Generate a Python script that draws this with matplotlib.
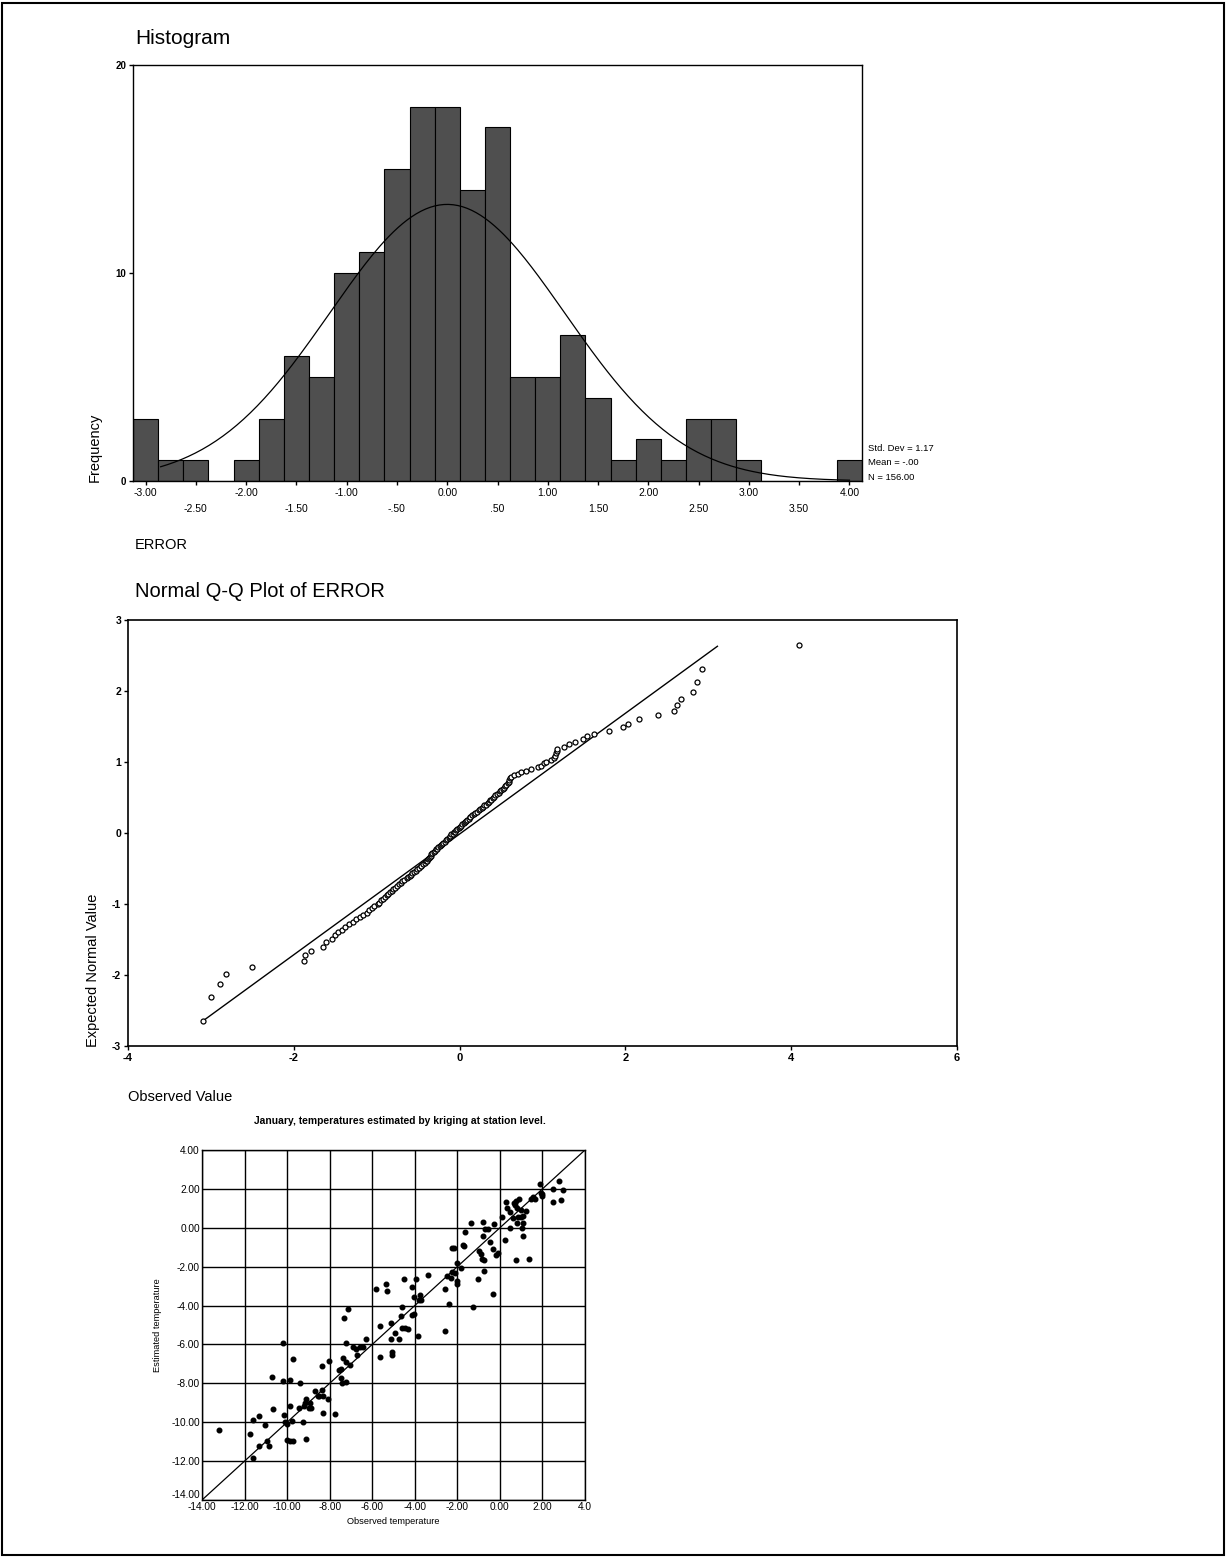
import matplotlib
matplotlib.use("Agg")
import matplotlib.pyplot as plt
import numpy as np
from matplotlib.patches import Rectangle

NARROW = ["Liberation Sans Narrow", "Liberation Sans", "DejaVu Sans"]
ARIAL = ["Liberation Sans", "DejaVu Sans"]
plt.rcParams["font.family"] = NARROW

# ---- histogram of ERROR (bin centres, width .25) ----
bin_centers = [-3.0, -2.75, -2.5, -2.25, -2.0, -1.75, -1.5, -1.25, -1.0, -0.75,
               -0.5, -0.25, 0.0, 0.25, 0.5, 0.75, 1.0, 1.25, 1.5, 1.75,
               2.0, 2.25, 2.5, 2.75, 3.0, 3.25, 3.5, 3.75, 4.0]
bin_counts = [3, 1, 1, 0, 1, 3, 6, 5, 10, 11,
              15, 18, 18, 14, 17, 5, 5, 7, 4, 1,
              2, 1, 3, 3, 1, 0, 0, 0, 1]
bin_width = 0.25
err_mean, err_sd, err_n = 0.0, 1.17, 156
hist_ticks = [-3.0, -2.5, -2.0, -1.5, -1.0, -0.5, 0.0, 0.5, 1.0, 1.5,
              2.0, 2.5, 3.0, 3.5, 4.0]
hist_ticklabels = ["-3.00", "-2.50", "-2.00", "-1.50", "-1.00", "-.50", "0.00", ".50",
                   "1.00", "1.50", "2.00", "2.50", "3.00", "3.50", "4.00"]

# ---- normal Q-Q plot of ERROR ----
qq_observed = [-3.09, -3.00, -2.89, -2.82, -2.51, -1.88, -1.86, -1.79, -1.65,
               -1.61, -1.54, -1.50, -1.47, -1.42, -1.38,
               -1.33, -1.29, -1.25, -1.20, -1.16,
               -1.12, -1.09, -1.06, -1.03, -0.99, -0.97, -0.95, -0.92, -0.90, -0.88,
               -0.86, -0.84, -0.82, -0.80, -0.78, -0.76, -0.73, -0.71, -0.69, -0.67, -0.64,
               -0.62, -0.60, -0.59, -0.57, -0.55, -0.53, -0.51, -0.49, -0.47, -0.46,
               -0.44, -0.42, -0.41, -0.39, -0.38,
               -0.37, -0.36, -0.35, -0.34, -0.33, -0.31, -0.30, -0.29, -0.27, -0.26,
               -0.24, -0.23, -0.21, -0.20, -0.18, -0.16, -0.15, -0.13,
               -0.12, -0.11, -0.10, -0.08, -0.07, -0.06, -0.04, -0.03, -0.01, 0.00,
               0.02, 0.03, 0.05, 0.06, 0.08, 0.09, 0.11, 0.12,
               0.13, 0.15, 0.17, 0.19, 0.21, 0.23, 0.25, 0.27, 0.28, 0.30, 0.32, 0.34, 0.35, 0.37,
               0.38, 0.40, 0.42, 0.43, 0.45, 0.47, 0.49, 0.50, 0.52, 0.53, 0.55, 0.56,
               0.58, 0.59, 0.60, 0.61, 0.62,
               0.66, 0.70, 0.74, 0.80, 0.86,
               0.95, 0.98, 1.02, 1.04, 1.10,
               1.14, 1.15, 1.16, 1.17, 1.18, 1.26, 1.32,
               1.39, 1.49, 1.54, 1.62, 1.80, 1.97, 2.03, 2.17,
               2.39, 2.59, 2.62, 2.67, 2.82, 2.86, 2.93, 4.09]
qq_expected = [-2.65, -2.31, -2.13, -1.99, -1.89, -1.80, -1.72, -1.66, -1.60, -1.54,
               -1.49, -1.44, -1.40, -1.36, -1.32, -1.28, -1.25, -1.21, -1.18, -1.15,
               -1.12, -1.09, -1.06, -1.03, -1.00, -0.98, -0.95, -0.93, -0.90, -0.88,
               -0.86, -0.83, -0.81, -0.79, -0.77, -0.75, -0.72, -0.70, -0.68, -0.66,
               -0.64, -0.62, -0.60, -0.59, -0.57, -0.55, -0.53, -0.51, -0.49, -0.47,
               -0.46, -0.44, -0.42, -0.40, -0.39, -0.37, -0.35, -0.34, -0.32, -0.30,
               -0.28, -0.27, -0.25, -0.23, -0.22, -0.20, -0.19, -0.17, -0.15, -0.14,
               -0.12, -0.10, -0.09, -0.07, -0.06, -0.04, -0.02, -0.01,
               0.01, 0.02, 0.04, 0.06, 0.07, 0.09, 0.10, 0.12,
               0.14, 0.15, 0.17, 0.19, 0.20, 0.22, 0.23, 0.25, 0.27, 0.28,
               0.30, 0.32, 0.34, 0.35, 0.37, 0.39, 0.40, 0.42, 0.44, 0.46,
               0.47, 0.49, 0.51, 0.53, 0.55, 0.57, 0.59, 0.60, 0.62, 0.64,
               0.66, 0.68, 0.70, 0.72, 0.75, 0.77, 0.79, 0.81, 0.83, 0.86,
               0.88, 0.90, 0.93, 0.95, 0.98, 1.00, 1.03, 1.06, 1.09, 1.12,
               1.15, 1.18, 1.21, 1.25, 1.28, 1.32, 1.36, 1.40, 1.44, 1.49,
               1.54, 1.60, 1.66, 1.72, 1.80, 1.89, 1.99, 2.13, 2.31, 2.65]
qq_line_x = [-3.10, 3.11]
qq_line_y = [-2.65, 2.63]

# ---- kriging scatter, January ----
obs_temp = [1.88, 2.78, 2.48, 2.98, 1.92, 2.00, 1.97, 1.54, 1.65, 1.46, 2.48, 2.85,
            0.90, 0.74, 0.66, 0.29, 0.35, 0.48, 0.71, 0.79, 0.98, 1.23, 0.08, 0.60,
            0.98, 1.07, 0.87, -1.36, -0.80, -0.30, 0.79, 1.07, 0.48, 1.02, -0.69, -0.54,
            -0.80, 1.07, -1.64, 0.24, -0.46, -0.31, -0.10, -0.20, -1.72, -1.67, -2.26,
            -2.15, -0.97, -0.90, -0.85, -0.73, 0.76, 1.37, -2.03, -1.82, -2.25, -2.11,
            -2.47, -2.31, -2.03, -2.03, -3.36, -1.04, -0.73, -2.56, -0.34, -2.37, -1.25,
            -2.59,
            -5.82, -5.35, -5.31, -4.53, -3.94, -4.14, -4.03, -3.75, -3.81, -3.70, -4.61,
            -4.14, -4.06, -4.64, -5.63, -5.11, -4.61, -4.47, -4.34, -4.92, -5.11, -4.72,
            -3.87, -5.05, -5.05, -5.63, -6.27, -7.13, -7.33, -7.22, -6.88, -6.77, -6.57,
            -6.44, -6.72, -7.35, -7.22, -7.04, -7.58, -7.45, -7.45, -7.42, -7.22, -8.37,
            -8.05, -9.70, -10.20,
            -10.71, -10.20, -9.88, -9.38, -8.68, -8.37, -8.55, -8.48, -8.29, -8.06,
            -9.10, -9.18, -8.91, -8.99, -9.20, -9.46, -8.87, -9.88, -10.64, -8.29,
            -7.77, -11.34, -11.61, -10.13, -10.09, -10.01, -9.77, -9.23, -11.06, -13.22,
            -11.73, -11.32, -10.95, -10.84, -10.01, -9.88, -9.74, -9.10, -11.61]
est_temp = [2.23, 2.40, 2.02, 1.96, 1.80, 1.72, 1.65, 1.57, 1.46, 1.49, 1.33, 1.41,
            1.46, 1.36, 1.25, 1.33, 1.02, 0.83, 1.17, 1.02, 0.89, 0.86, 0.58, 0.51,
            0.58, 0.63, 0.55, 0.23, 0.30, 0.22, 0.23, 0.23, -0.01, -0.01, -0.08, -0.08,
            -0.40, -0.40, -0.21, -0.63, -0.74, -1.10, -1.31, -1.42, -0.87, -0.95, -1.05,
            -1.05, -1.18, -1.34, -1.62, -1.65, -1.68, -1.60, -1.81, -2.09, -2.25, -2.33,
            -2.47, -2.56, -2.75, -2.88, -2.44, -2.62, -2.23, -3.16, -3.38, -3.90, -4.08,
            -5.29,
            -3.17, -2.91, -3.25, -2.64, -2.64, -3.06, -3.54, -3.46, -3.72, -3.72, -4.08,
            -4.48, -4.45, -4.56, -5.04, -4.92, -5.15, -5.17, -5.18, -5.42, -5.73, -5.73,
            -5.58, -6.39, -6.52, -6.64, -5.70, -4.18, -4.65, -5.92, -6.13, -6.24, -6.13,
            -6.13, -6.52, -6.68, -6.91, -7.07, -7.30, -7.27, -7.70, -8.00, -7.93, -7.11,
            -6.83, -6.75, -5.94,
            -7.65, -7.90, -7.82, -7.96, -8.40, -8.32, -8.64, -8.64, -8.64, -8.79,
            -8.79, -9.03, -9.03, -9.27, -9.19, -9.27, -9.27, -9.16, -9.30, -9.53,
            -9.58, -9.66, -9.90, -9.63, -9.97, -10.08, -9.94, -10.00, -10.16, -10.41,
            -10.60, -11.23, -10.95, -11.23, -10.91, -10.95, -10.95, -10.85, -11.82]
temp_ticks = [-14, -12, -10, -8, -6, -4, -2, 0, 2, 4]
temp_xlabels = ["-14.00", "-12.00", "-10.00", "-8.00", "-6.00", "-4.00", "-2.00",
                "0.00", "2.00", "4.0"]
temp_ylabels = ["-14.00", "-12.00", "-10.00", "-8.00", "-6.00", "-4.00", "-2.00",
                "0.00", "2.00", "4.00"]

W, H = 1226, 1558
fig = plt.figure(figsize=(W / 100, H / 100), dpi=100)


def box(l, t, r, b):
    return [l / W, 1 - b / H, (r - l) / W, (b - t) / H]


# page frame
fig.add_artist(Rectangle((0.002, 0.002), 0.996, 0.996, transform=fig.transFigure,
                         fill=False, lw=1.5, color="black"))

# ================= histogram =================
ax1 = fig.add_axes(box(133, 65, 862, 481))
ax1.bar(bin_centers, bin_counts, width=bin_width, color="#4f4f4f",
        edgecolor="black", linewidth=0.8)
xs = np.linspace(-2.85, 4.0, 300)
curve = err_n * bin_width * np.exp(-0.5 * ((xs - err_mean) / err_sd) ** 2) / (err_sd * np.sqrt(2 * np.pi))
ax1.plot(xs, curve, color="black", lw=0.9)
ax1.set_xlim(-3.125, 4.125)
ax1.set_ylim(0, 20)
ax1.set_yticks([0, 10, 20])
ax1.set_yticklabels(["0", "10", "20"], fontsize=7, fontweight="bold")
ax1.set_xticks(hist_ticks)
ax1.set_xticklabels([lab if k % 2 == 0 else "\n" + lab
                     for k, lab in enumerate(hist_ticklabels)], fontsize=7.5,
                    linespacing=1.7)
ax1.tick_params(direction="out", length=3, width=1, pad=2)
for s in ax1.spines.values():
    s.set_linewidth(1)
stats = ["Std. Dev = 1.17", "Mean = -.00", "N = 156.00"]
for k, line in enumerate(stats):
    ax1.text(1.008, 0.079 - k * 0.035, line, transform=ax1.transAxes,
             fontsize=6.8, va="center", ha="left")

fig.text(135 / W, 1 - 38 / H, "Histogram", fontsize=15, va="center", ha="left")
fig.text(135 / W, 1 - 545 / H, "ERROR", fontsize=10.5, va="center", ha="left")
fig.text(95 / W, 1 - 482 / H, "Frequency", fontsize=10.5, rotation=90,
         va="bottom", ha="center")

# ================= Q-Q plot =================
ax2 = fig.add_axes(box(128, 620, 957, 1046))
ax2.plot(qq_line_x, qq_line_y, color="black", lw=1)
ax2.plot(qq_observed, qq_expected, "o", ms=3.6, mfc="white", mec="black", mew=0.9)
ax2.set_xlim(-4, 6)
ax2.set_ylim(-3, 3)
ax2.set_xticks([-4, -2, 0, 2, 4, 6])
ax2.set_xticklabels(["-4", "-2", "0", "2", "4", "6"], fontsize=8, fontweight="bold")
ax2.set_yticks([-3, -2, -1, 0, 1, 2, 3])
ax2.set_yticklabels(["-3", "-2", "-1", "0", "1", "2", "3"], fontsize=7.5, fontweight="bold")
ax2.tick_params(direction="out", length=3, width=1, pad=2)
for s in ax2.spines.values():
    s.set_linewidth(1.2)

fig.text(135 / W, 1 - 592 / H, "Normal Q-Q Plot of ERROR", fontsize=14.5,
         va="center", ha="left")
fig.text(128 / W, 1 - 1097 / H, "Observed Value", fontsize=10.5, va="center", ha="left")
fig.text(93 / W, 1 - 1047 / H, "Expected Normal Value", fontsize=10.5, rotation=90,
         va="bottom", ha="center")

# ================= kriging scatter =================
ax3 = fig.add_axes(box(202, 1150, 585, 1500))
ax3.plot([-14, 4], [-14, 4], color="black", lw=0.9)
ax3.plot(obs_temp, est_temp, "o", ms=3.3, color="black")
ax3.set_xlim(-14, 4)
ax3.set_ylim(-14, 4)
ax3.set_xticks(temp_ticks)
ax3.set_yticks(temp_ticks)
ax3.set_xticklabels(temp_xlabels, fontsize=7.3, family=ARIAL)
ax3.set_yticklabels(temp_ylabels, fontsize=7.3, family=ARIAL)
ax3.get_yticklabels()[0].set_va("bottom")
ax3.grid(True, color="black", lw=1)
ax3.set_axisbelow(True)
ax3.tick_params(length=0, pad=1.5)
for s in ax3.spines.values():
    s.set_linewidth(1)

fig.text(400 / W, 1 - 1121 / H,
         "January, temperatures estimated by kriging at station level.",
         fontsize=7.4, fontweight="bold", family=ARIAL, ha="center", va="center")
fig.text(393 / W, 1 - 1522 / H, "Observed temperature", fontsize=6.7,
         family=ARIAL, ha="center", va="center")
fig.text(157 / W, 1 - 1325 / H, "Estimated temperature", fontsize=6.7,
         family=ARIAL, rotation=90, ha="center", va="center")

fig.savefig("out.png", dpi=100)
